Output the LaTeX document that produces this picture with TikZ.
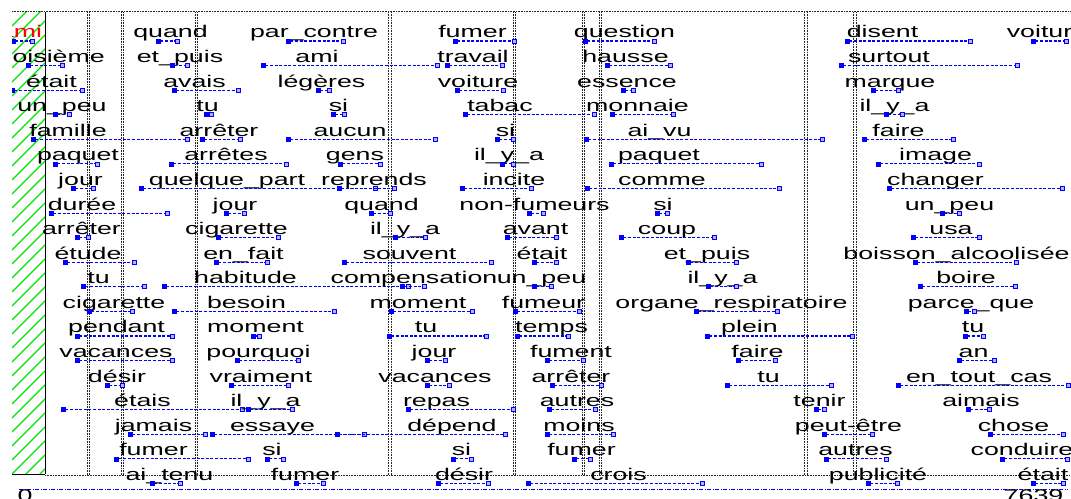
\documentclass[tikz,border=0pt]{standalone}
\usepackage{fontspec}
\newfontfamily\wf{Liberation Sans}[FakeStretch=1.58]
\begin{document}
\begin{tikzpicture}[x=1bp,y=-1bp,
  wd/.style={font=\wf\fontsize{17}{18}\selectfont, inner sep=0pt, anchor=base, text=black},
  mk/.style={rectangle, draw=blue, fill=blue, line width=0.7bp, minimum size=4bp, inner sep=0pt},
  mkh/.style={mk, fill=blue!30!white},
  dl/.style={blue, line width=1.1bp, dash pattern=on 3bp off 1.6bp},
  vd/.style={black!85, line width=0.6bp, dash pattern=on 0.8bp off 0.8bp},
  axisline/.style={blue, line width=0.9bp, dash pattern=on 4bp off 1.5bp on 1bp off 1.5bp}]
\useasboundingbox (0,0) rectangle (1071,499);
\fill[white] (0,0) rectangle (1071,499);
% hatched strip
\begin{scope}
  \clip (12,12) rectangle (45,474);
  \foreach \k in {0,...,36} \draw[green!90!black, line width=1.1bp] (12,12+\k*14) -- ++(45,-45);
\end{scope}
\draw[black, line width=0.8bp] (45,12) -- (45,474) (12,474) -- (45,474);
% frame lines
\draw[vd] (12,11.5) -- (1071,11.5);
\draw[vd] (45,475.5) -- (1071,475.5);
\foreach \x in {87,121,195,388.5,513,582,599,804.5,853.5}{
  \draw[vd] (\x,12) -- (\x,475);
  \draw[vd] (\x+2.3,12) -- (\x+2.3,475);
}
% axis
\coordinate (ax0) at (19,489);
\coordinate (ax1) at (1068,489);
\draw[axisline] (ax0) -- (ax1);
\node[wd] (zero) at (25,501) {0};
\node[wd] (maxv) at (1033.5,501) {7639};
% words
\begin{scope}
\clip (12,0) rectangle (1071,499);
\node[wd, text=red] (w0) at (20.5,38) {ami};
\node[mk] (a0) at (13,41) {};
\node[mkh] (b0) at (32,41) {};
\draw[dl] (a0) -- (b0);
\foreach \rw/\cx/\lt/\rt/\wo [count=\n] in {
0/170.5/158/177/quand, 0/314/288/343/par\_contre, 0/472.5/455/514/fumer, 0/624.5/585/654/question, 0/882.5/847/970/disent, 0/1047/1033/1066/voiture,
1/50.5/28/62/troisième, 1/180/172/187/et\_puis, 1/317/263/437/ami, 1/473/447/502/travail, 1/625.5/607/670/hausse, 1/889/841/1017/surtout,
2/51.5/12/82/était, 2/194.5/174/238/avais, 2/321.5/318/329/légères, 2/478/457/503/voiture, 2/627/623/633/essence, 2/890/873/898/marque,
3/62/55/69/un\_peu, 3/207.5/206/211/tu, 3/338.5/333/344/si, 3/500/465/594/tabac, 3/637.5/612/673/monnaie, 3/894.5/886/902/il\_y\_a,
4/68/33/187/famille, 4/219/202/240/arrêter, 4/350/288/435/aucun, 4/505.5/497/513/si, 4/659.5/586/822/ai\_vu, 4/898.5/864/953/faire,
5/78/55/97/paquet, 5/226/171/286/arrêtes, 5/355/340/380/gens, 5/509/502/513/il\_y\_a, 5/659/611/761/paquet, 5/935.5/878/979/image,
6/80.5/73/93/jour, 6/227/141/375/quelque\_part, 6/374/339/394/reprends, 6/514/462/531/incite, 6/662/587/779/comme, 6/935.5/889/1062/changer,
7/82/51/167/durée, 7/235/226/244/jour, 7/381.5/371/390/quand, 7/534.5/529/543/non-fumeurs, 7/663/657/667/si, 7/949.5/942/959/un\_peu,
8/81.5/77/88/arrêter, 8/236.5/218/278/cigarette, 8/405/395/425/il\_y\_a, 8/535.5/507/556/avant, 8/667/621/714/coup, 8/951/913/979/usa,
9/88/65/134/étude, 9/243.5/216/267/en\_fait, 9/409.5/344/491/souvent, 9/542/534/556/était, 9/707/688/736/et\_puis, 9/956.5/915/1016/boisson\_alcoolisée,
10/98.5/83/144/tu, 10/245.5/164/408/habitude, 10/414/402/424/compensation, 10/541.5/534/551/un\_peu, 10/722.5/708/736/il\_y\_a, 10/966/920/1015/boire,
11/114/89/132/cigarette, 11/246.5/174/334/besoin, 11/418/391/472/moment, 11/543.5/515/579/fumeur, 11/731.5/696/777/organe\_respiratoire, 11/971/966/974/parce\_que,
12/116.5/77/172/pendant, 12/255.5/253/259/moment, 12/426/389/486/tu, 12/551.5/517/568/temps, 12/749.5/707/852/plein, 12/973/965/983/tu,
13/116/77/172/vacances, 13/258.5/237/298/pourquoi, 13/434/427/445/jour, 13/571/547/583/fument, 13/757.5/738/775/faire, 13/973.5/959/994/an,
14/117/107/122/désir, 14/261/231/288/vraiment, 14/435/427/449/vacances, 14/571/552/601/arrêter, 14/768.5/727/831/tu, 14/979/898/1068/en\_tout\_cas,
15/142.5/63/242/étais, 15/265.5/248/292/il\_y\_a, 15/436.5/408/513/repas, 15/577/549/595/autres, 15/819.5/816/824/tenir, 15/981/968/989/aimais,
16/153.5/130/205/jamais, 16/272.5/212/364/essaye, 16/452/337/505/dépend, 16/579/547/613/moins, 16/848.5/824/872/peut-être, 16/1013.5/990/1063/chose,
17/153.5/116/248/fumer, 17/272/267/283/si, 17/461.5/453/471/si, 17/581.5/574/590/fumer, 17/855.5/826/886/autres, 17/1022/1002/1067/conduire,
18/169.5/152/180/ai\_tenu, 18/305/296/323/fumer, 18/464/438/488/désir, 18/618.5/528/702/crois, 18/878/868/897/publicité, 18/1043/1033/1063/était}
{
  \pgfmathsetmacro\yy{41+24.58*\rw}
  \node[wd] (w\n) at (\cx,\yy-3) {\wo};
  \node[mk] (a\n) at (\lt,\yy) {};
  \node[mkh] (b\n) at (\rt,\yy) {};
  \draw[dl] (a\n) -- (b\n);
}
\end{scope}
\end{tikzpicture}
\end{document}
